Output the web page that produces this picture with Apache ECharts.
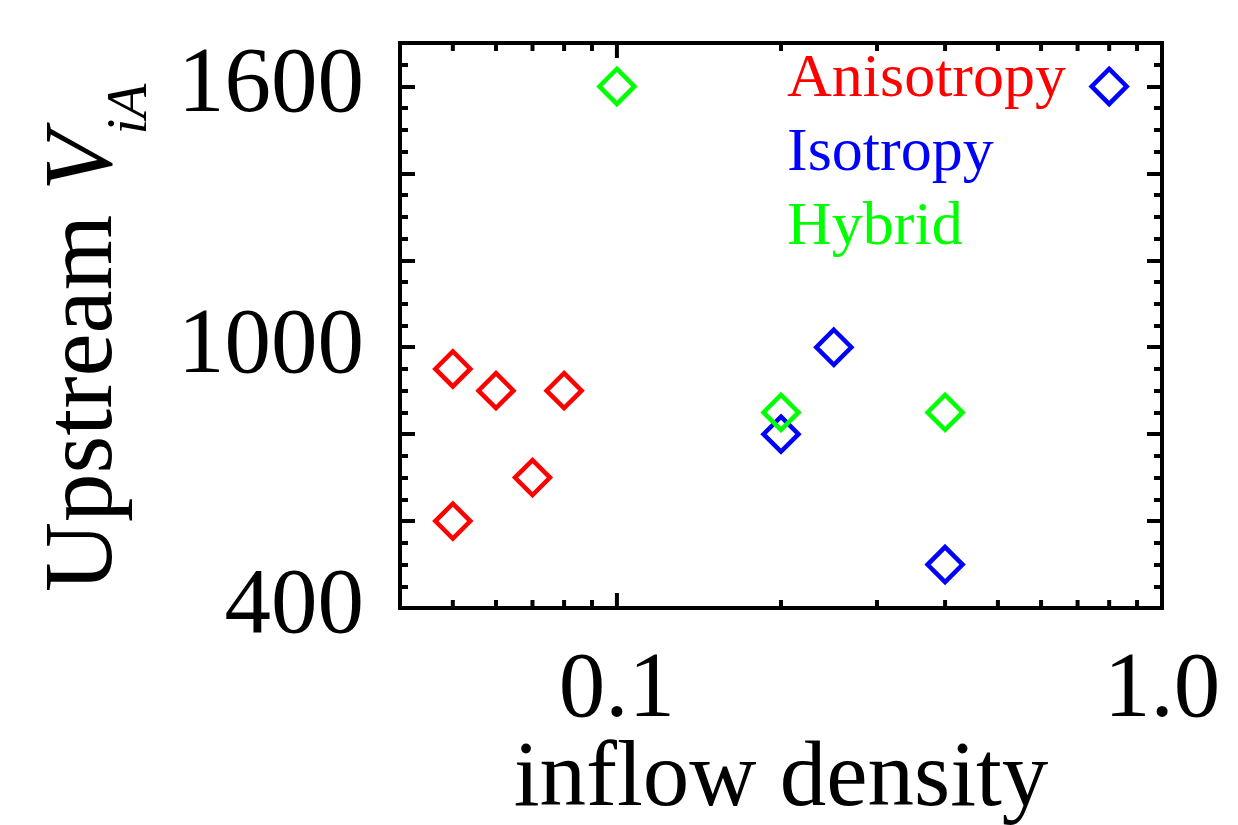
<!DOCTYPE html>
<html><head><meta charset="utf-8">
<script src="https://cdn.jsdelivr.net/npm/echarts@6/dist/echarts.min.js"></script>
<style>html,body{margin:0;padding:0;background:#fff}#c{width:1238px;height:825px}</style>
</head><body><div id="c"></div>
<script>
const seriesNames = ['Anisotropy', 'Isotropy', 'Hybrid'];
const seriesColors = ['#ff0000', '#0000ff', '#00ff00'];
const anisoDensity = [0.05, 0.06, 0.08, 0.07, 0.05];
const anisoV = [950, 900, 900, 700, 600];
const isoDensity = [0.8, 0.25, 0.2, 0.4];
const isoV = [1600, 1000, 800, 500];
const hybDensity = [0.1, 0.2, 0.4];
const hybV = [1600, 850, 850];
const xMajorTicks = [0.1];
const xMinorTicks = [0.05, 0.06, 0.07, 0.08, 0.09, 0.2, 0.3, 0.4, 0.5, 0.6, 0.7, 0.8, 0.9];
const xTickLabels = [[0.1, '0.1'], [1, '1.0']];
const yTickLabels = [400, 1000, 1600];
const yTitleParts = ['Upstream ', 'V', 'iA'];

const FONT = 'Liberation Serif';
const zip = (xs, ys) => xs.map((x, i) => [x, ys[i]]);
const seriesData = [zip(anisoDensity, anisoV), zip(isoDensity, isoV), zip(hybDensity, hybV)];

const chart = echarts.init(document.getElementById('c'), null, {renderer: 'canvas'});

function yAx(pos, interval, len, showLabel) {
  return {
    type: 'value', position: pos, min: 400, max: 1700, interval: interval,
    axisLine: {show: false},
    splitLine: {show: false},
    axisTick: {show: true, inside: true, length: len, lineStyle: {color: '#000', width: 4}},
    axisLabel: showLabel ? {
      show: true, margin: 36, fontFamily: FONT, fontSize: 93, color: '#000',
      formatter: v => yTickLabels.indexOf(v) >= 0 ? String(v) : ''
    } : {show: false}
  };
}

const yAxes = [yAx('left', 200, 15, true), yAx('left', 50, 8, false), yAx('right', 200, 15, false), yAx('right', 50, 8, false)];

chart.setOption({
  animation: false,
  backgroundColor: '#fff',
  grid: {left: 400, right: 76, top: 43, bottom: 217, outerBoundsMode: 'none', containLabel: false,
    show: true, borderColor: '#000', borderWidth: 4, backgroundColor: 'transparent'},
  legend: {
    orient: 'vertical', left: 777, top: 44, itemGap: 12, itemWidth: 0, itemHeight: 10, icon: 'none',
    selectedMode: false,
    textStyle: {fontFamily: FONT, fontSize: 62},
    data: seriesNames.map((n, i) => ({name: n, textStyle: {color: seriesColors[i]}}))
  },
  xAxis: {
    type: 'log', logBase: 10, min: 0.04, max: 1,
    axisLine: {show: false}, splitLine: {show: false}, axisTick: {show: false},
    axisLabel: {
      show: true, margin: 37, fontFamily: FONT, fontSize: 93, color: '#000',
      showMinLabel: true, showMaxLabel: true, hideOverlap: false,
      formatter: v => { for (const [t, s] of xTickLabels) { if (Math.abs(v - t) < 1e-6 * t) return s; } return ''; }
    },
    name: 'inflow density', nameLocation: 'middle', nameGap: 126, nameMoveOverlap: false,
    nameTextStyle: {fontFamily: FONT, fontSize: 93, color: '#000'}
  },
  yAxis: yAxes,
  series: seriesNames.map((n, i) => ({
    name: n, type: 'scatter', data: seriesData[i], symbol: 'diamond', symbolSize: 35,
    itemStyle: {color: 'rgba(0,0,0,0)', borderColor: seriesColors[i], borderWidth: 4.5, opacity: 1},
    emphasis: {disabled: true}
  }))
});

// x-axis ticks (log minor/major) placed through the axis scale, mirrored top and bottom
const graphics = [];
function addTick(v, len) {
  const pb = chart.convertToPixel({xAxisIndex: 0, yAxisIndex: 0}, [v, 400]);
  const pt = chart.convertToPixel({xAxisIndex: 0, yAxisIndex: 0}, [v, 1700]);
  graphics.push({type: 'line', z: 10, shape: {x1: pb[0], y1: pb[1], x2: pb[0], y2: pb[1] - len}, style: {stroke: '#000', lineWidth: 4}});
  graphics.push({type: 'line', z: 10, shape: {x1: pt[0], y1: pt[1], x2: pt[0], y2: pt[1] + len}, style: {stroke: '#000', lineWidth: 4}});
}
xMinorTicks.forEach(v => addTick(v, 8));
xMajorTicks.forEach(v => addTick(v, 15));

// rotated y-axis title: "Upstream " + italic V + italic subscript iA
const mainFont = '97px "Liberation Serif"';
const italFont = 'italic 97px "Liberation Serif"';
const subFont = 'italic 57px "Liberation Serif"';
const ctx = document.createElement('canvas').getContext('2d');
ctx.font = mainFont; const w0 = ctx.measureText(yTitleParts[0]).width;
ctx.font = italFont; const w1 = ctx.measureText(yTitleParts[1]).width;
const startY = 592, mainMidX = 118 - 0.3375 * 97, subMidX = 150 - 0.3375 * 57;
function rotText(text, font, x, y) {
  return {type: 'text', x: x, y: y, rotation: Math.PI / 2, z: 10,
    style: {text: text, font: font, fill: '#000', align: 'left', verticalAlign: 'middle', textAlign: 'left', textVerticalAlign: 'middle'}};
}
graphics.push(rotText(yTitleParts[0], mainFont, mainMidX, startY));
graphics.push(rotText(yTitleParts[1], italFont, mainMidX, startY - w0));
graphics.push(rotText(yTitleParts[2], subFont, subMidX, startY - w0 - w1 + 3));
chart.setOption({graphic: graphics});
</script></body></html>
